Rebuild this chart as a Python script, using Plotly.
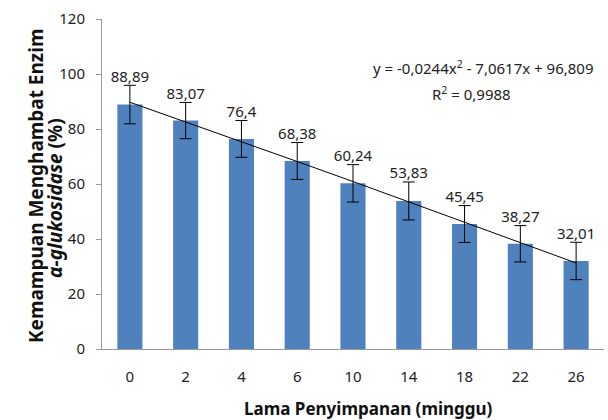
import plotly.graph_objects as go

categories = ["0", "2", "4", "6", "10", "14", "18", "22", "26"]
values = [88.89, 83.07, 76.4, 68.38, 60.24, 53.83, 45.45, 38.27, 32.01]
errors = [7.0, 6.6, 6.7, 6.7, 6.8, 6.9, 6.7, 6.6, 6.8]
labels = ["88,89", "83,07", "76,4", "68,38", "60,24", "53,83", "45,45", "38,27", "32,01"]
trend = [89.72, 82.59, 75.41, 68.17, 60.89, 53.56, 46.18, 38.76, 31.28]

FONT = "Noto Sans"
L, R, T, B = 102, 4, 19, 71
W, H = 608, 420
PW, PH = W - L - R, H - T - B


def px(x):
    return (x - L) / PW


def py(y):
    return (H - B - y) / PH


fig = go.Figure()
fig.add_trace(go.Bar(
    x=categories, y=values, width=0.45,
    marker=dict(color="#4F81BD", line=dict(width=0)),
    error_y=dict(type="data", array=errors, visible=True, color="black", thickness=1, width=6),
    showlegend=False,
))
fig.add_trace(go.Scatter(
    x=categories, y=trend, mode="lines",
    line=dict(color="black", width=1), showlegend=False,
))
fig.add_trace(go.Scatter(
    x=categories, y=[v + e for v, e in zip(values, errors)], mode="text",
    text=labels, textposition="top center",
    textfont=dict(family=FONT, size=15, color="#222"), showlegend=False,
))

fig.add_annotation(
    text="y = -0,0244x<sup>2</sup> - 7,0617x + 96,809",
    xref="paper", yref="paper", x=px(483), y=py(68), xanchor="center", yanchor="middle",
    showarrow=False, font=dict(family=FONT, size=15, color="#222"),
)
fig.add_annotation(
    text="R<sup>2</sup> = 0,9988",
    xref="paper", yref="paper", x=px(471), y=py(93), xanchor="center", yanchor="middle",
    showarrow=False, font=dict(family=FONT, size=15, color="#222"),
)
# axis titles
fig.add_annotation(
    text="<b>Kemampuan Menghambat Enzim</b>",
    xref="paper", yref="paper", x=px(36), y=py(186), xanchor="center", yanchor="middle",
    textangle=-90, showarrow=False, font=dict(family=FONT, size=19, color="#111"),
)
fig.add_annotation(
    text="<b><i>α-glukosidase</i> (%)</b>",
    xref="paper", yref="paper", x=px(55), y=py(198), xanchor="center", yanchor="middle",
    textangle=-90, showarrow=False, font=dict(family=FONT, size=19, color="#111"),
)
fig.add_annotation(
    text="<b>Lama Penyimpanan (minggu)</b>",
    xref="paper", yref="paper", x=px(368), y=py(408), xanchor="center", yanchor="middle",
    showarrow=False, font=dict(family=FONT, size=17, color="#111"),
)

fig.update_layout(
    width=W, height=H,
    margin=dict(l=L, r=R, t=T, b=B, autoexpand=False),
    plot_bgcolor="white", paper_bgcolor="white",
    font=dict(family=FONT, size=14, color="#222"),
    xaxis=dict(
        type="category", showline=True, linecolor="#9a9a9a", linewidth=1,
        ticks="", showgrid=False, automargin=False, ticklabelstandoff=14,
        tickfont=dict(family=FONT, size=15, color="#222"),
    ),
    yaxis=dict(
        range=[0, 120], dtick=20, showline=True, linecolor="#9a9a9a", linewidth=1,
        ticks="outside", ticklen=5, tickcolor="#9a9a9a", showgrid=False, zeroline=False,
        automargin=False, ticklabelstandoff=8,
        tickfont=dict(family=FONT, size=15, color="#222"),
    ),
)

fig.write_html(
    "out.html",
    config={"displayModeBar": False},
    post_script="document.body.style.margin='0';document.body.style.overflow='hidden';",
)
